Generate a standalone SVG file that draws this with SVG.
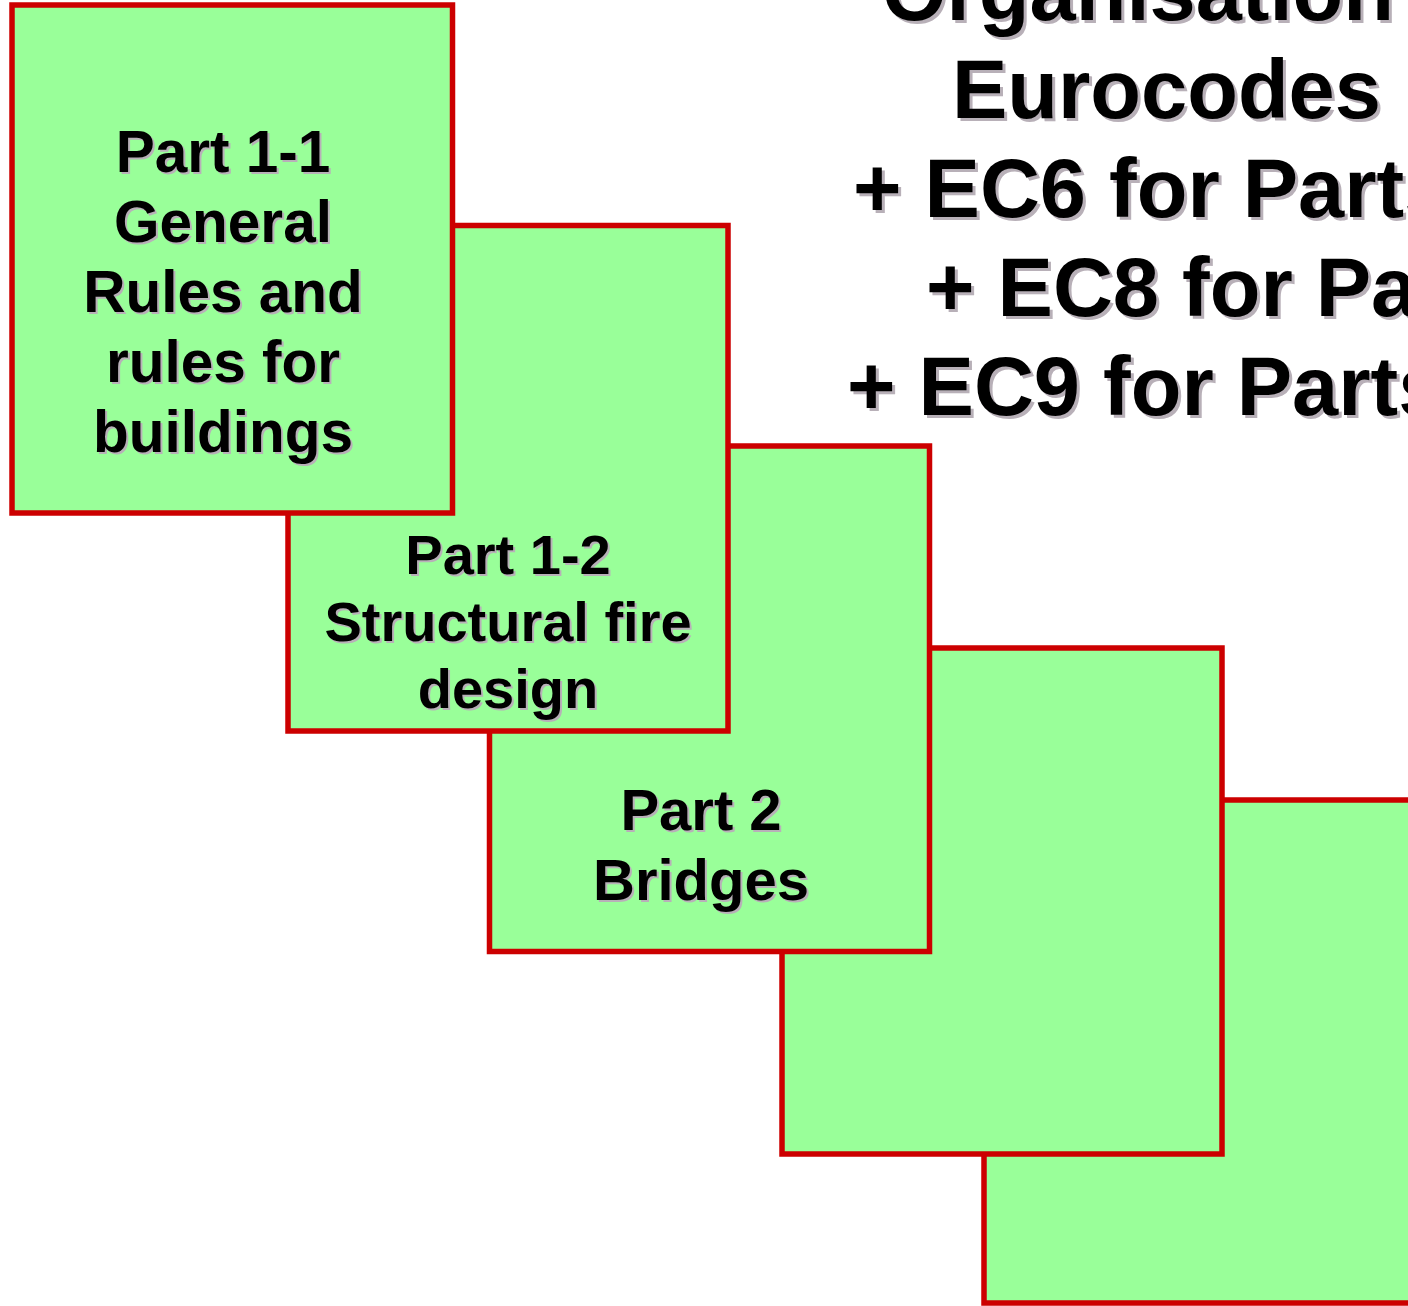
<svg xmlns="http://www.w3.org/2000/svg" width="1408" height="1306" viewBox="0 0 1408 1306">
<style>
.box{fill:#99ff99;stroke:#cc0000;stroke-width:5.5}
.t{font-family:"Liberation Sans",Arial,sans-serif;font-weight:bold;font-size:58px;text-anchor:middle}
.t2{font-size:56px}
.t1{font-size:58.5px}
.h{font-family:"Liberation Sans",Arial,sans-serif;font-weight:bold;font-size:83px}
.sh{fill:#b8b0b8}
.fg{fill:#000}
</style>
<rect width="1408" height="1306" fill="#fff"/>
<g id="title">
<g class="h sh" transform="translate(3,3)">
<text x="882" y="20">Organisation</text>
<text x="952" y="118">Eurocodes</text>
<text x="853" y="217">+ EC6 for Parts</text>
<text x="926" y="316">+ EC8 for Parts</text>
<text x="847" y="415">+ EC9 for Parts</text>
</g>
<g class="h fg">
<text x="882" y="20">Organisation</text>
<text x="952" y="118">Eurocodes</text>
<text x="853" y="217">+ EC6 for Parts</text>
<text x="926" y="316">+ EC8 for Parts</text>
<text x="847" y="415">+ EC9 for Parts</text>
</g>
</g>
<g id="box5"><rect class="box" x="984" y="800" width="440" height="503"/></g>
<g id="box4"><rect class="box" x="782" y="648" width="440" height="506"/></g>
<g id="box3">
<rect class="box" x="489.5" y="446" width="440" height="505.5"/>
<g class="t sh" transform="translate(2,2)"><text x="701" y="830">Part 2</text><text x="701" y="900">Bridges</text></g>
<g class="t fg"><text x="701" y="830">Part 2</text><text x="701" y="900">Bridges</text></g>
</g>
<g id="box2">
<rect class="box" x="288" y="225.5" width="440" height="505.5"/>
<g class="t t2 sh" transform="translate(2,2)"><text x="508" y="574">Part 1-2</text><text x="508" y="641">Structural fire</text><text x="508" y="708">design</text></g>
<g class="t t2 fg"><text x="508" y="574">Part 1-2</text><text x="508" y="641">Structural fire</text><text x="508" y="708">design</text></g>
</g>
<g id="box1">
<rect class="box" x="12" y="5" width="440.5" height="508"/>
<g class="t t1 sh" transform="translate(2,2)"><text x="223" y="172">Part 1-1</text><text x="223" y="242">General</text><text x="223" y="312">Rules and</text><text x="223" y="382">rules for</text><text x="223" y="452">buildings</text></g>
<g class="t t1 fg"><text x="223" y="172">Part 1-1</text><text x="223" y="242">General</text><text x="223" y="312">Rules and</text><text x="223" y="382">rules for</text><text x="223" y="452">buildings</text></g>
</g>
<g id="connectors"/>
</svg>
